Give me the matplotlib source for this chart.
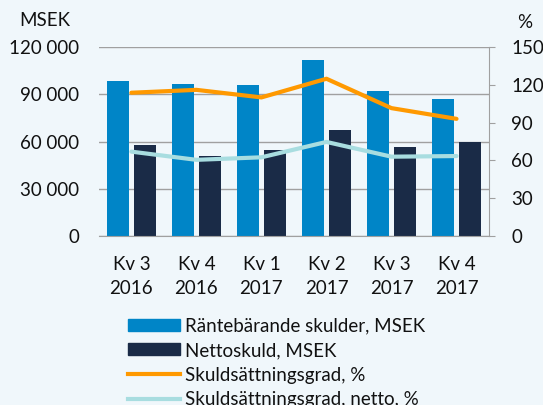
import numpy as np
import matplotlib.pyplot as plt
from matplotlib.patches import Patch
from matplotlib.lines import Line2D

# Data
kvartal = ["Kv 3\n2016", "Kv 4\n2016", "Kv 1\n2017", "Kv 2\n2017", "Kv 3\n2017", "Kv 4\n2017"]
rantebarande = [98500, 96500, 96000, 112000, 92000, 87100]
nettoskuld = [58000, 51000, 54800, 67200, 56800, 59400]
skuldgrad = [113.7, 116.0, 110.0, 124.8, 101.5, 93.0]
skuldgrad_netto = [67.0, 60.5, 62.5, 74.7, 63.0, 63.5]

bg = "#F0F7FB"
c_blue = "#0085C7"
c_navy = "#1A2B47"
c_orange = "#FF9900"
c_teal = "#A8DDE0"
grid_c = "#A0A0A0"

plt.rcParams['font.family'] = ['Lato', 'DejaVu Sans']
plt.rcParams['font.size'] = 13.5
plt.rcParams['text.color'] = '#111111'
plt.rcParams['xtick.color'] = '#111111'
plt.rcParams['ytick.color'] = '#111111'

fig = plt.figure(figsize=(5.43, 4.05), dpi=100, facecolor=bg)
ax = fig.add_axes([0.182, 0.417, 0.9006 - 0.182, 0.884 - 0.417])
ax.set_facecolor(bg)

x = np.arange(len(kvartal))
w = 0.34
ax.bar(x - 0.21, rantebarande, w, color=c_blue, zorder=2)
ax.bar(x + 0.21, nettoskuld, w, color=c_navy, zorder=2)

ax.set_xlim(-0.5, len(kvartal) - 0.5)
ax.set_ylim(0, 120000)
ax.set_yticks([0, 30000, 60000, 90000, 120000])
ax.set_yticklabels(["0", "30 000", "60 000", "90 000", "120 000"])
ax.set_xticks(x)
ax.set_xticklabels(kvartal, linespacing=1.5)
ax.yaxis.grid(True, color=grid_c, linewidth=1, zorder=0)
ax.set_axisbelow(True)
ax.tick_params(axis='y', length=0, pad=14)
ax.tick_params(axis='x', length=0, pad=14)
for s in ["top", "left", "right"]:
    ax.spines[s].set_visible(False)
ax.spines["bottom"].set_color(grid_c)

ax2 = ax.twinx()
ax2.plot(x, skuldgrad, color=c_orange, lw=3, zorder=3, solid_capstyle='round')
ax2.plot(x, skuldgrad_netto, color=c_teal, lw=3, zorder=3, solid_capstyle='round')
ax2.set_ylim(0, 150)
ax2.set_yticks([0, 30, 60, 90, 120, 150])
ax2.tick_params(axis='y', length=4, color=grid_c, pad=12)
for s in ["top", "left", "bottom"]:
    ax2.spines[s].set_visible(False)
ax2.spines["right"].set_color(grid_c)

fig.text(0.083, 0.95, "MSEK", ha='center', va='center')
fig.text(0.966, 0.945, "%", ha='center', va='center')

handles = [
    Patch(color=c_blue),
    Patch(color=c_navy),
    Line2D([], [], color=c_orange, lw=3),
    Line2D([], [], color=c_teal, lw=3),
]
labels = ["Räntebärande skulder, MSEK", "Nettoskuld, MSEK",
          "Skuldsättningsgrad, %", "Skuldsättningsgrad, netto, %"]
fig.legend(handles, labels, loc='upper left', bbox_to_anchor=(0.236, 0.216),
           frameon=False, handlelength=2.77, handleheight=0.6, handletextpad=0.27,
           labelspacing=0.4, borderaxespad=0, borderpad=0)

fig.savefig("out.png", dpi=100, facecolor=bg)
